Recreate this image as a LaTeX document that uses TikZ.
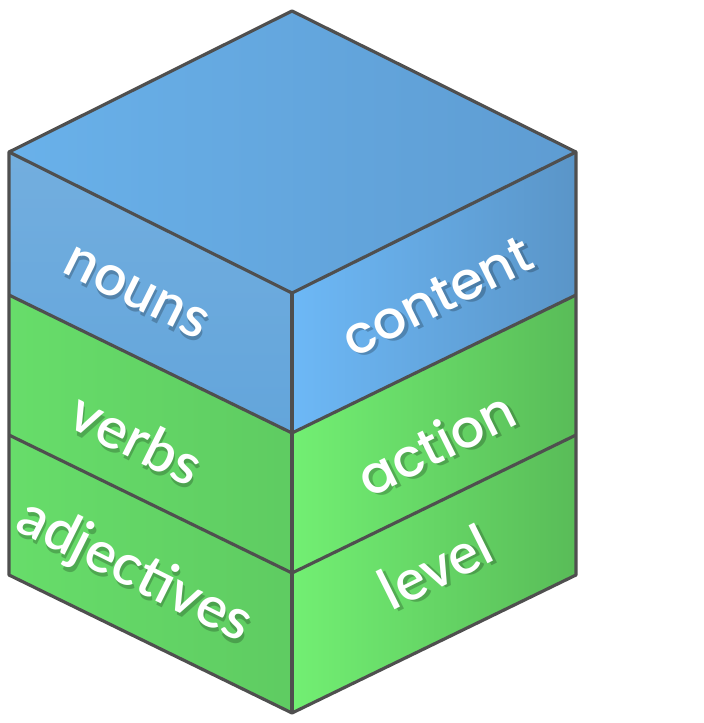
\documentclass[tikz,border=0pt]{standalone}
\usepackage{fontspec}
\setmainfont{Lato}[UprightFont=* Semibold]
\newfontfamily\roundfont{Poppins}[UprightFont=* Medium]
\usetikzlibrary{positioning}

\definecolor{edgegray}{HTML}{4F4F4F}
\definecolor{topleft}{HTML}{69B1EA}
\definecolor{topright}{HTML}{5E9CD2}
\definecolor{blueside}{HTML}{63A5DB}
\definecolor{bluefront}{HTML}{6DB8F6}
\definecolor{blueback}{HTML}{5A95C8}
\definecolor{greenside}{HTML}{67DD6A}
\definecolor{greenfront}{HTML}{72EF73}
\definecolor{greenback}{HTML}{59BC58}

\tikzset{
    cube edge/.style={
        draw=edgegray,
        line width=0.9pt,
        line join=round
    },
    face label/.style={
        text=white,
        inner sep=0pt,
        font=\fontsize{16.3}{17}\selectfont
    },
    left label/.style={face label, rotate=-26.5},
    right label/.style={face label, rotate=26.5},
    label shadow/.style={text=black, opacity=#1},
    label shadow/.default=0.3
}

% white text with a soft dark shadow behind it
\newcommand{\cubelabel}[4]{%
    \node (#1-sh) [#3, label shadow=0.22, xshift=0.8pt, yshift=-0.9pt] at (#2) {#4};
    \node (#1) [#3] at (#2) {#4};
}

\begin{document}
\begin{tikzpicture}[x=0.01cm, y=-0.01cm]
    \useasboundingbox (0,0) rectangle (704,723);

    % Corners
    \coordinate (top)    at (292,11);
    \coordinate (left0)  at (9,152);
    \coordinate (right0) at (576,152);
    \coordinate (front0) at (292,293);
    \coordinate (left1)  at (9,295);
    \coordinate (right1) at (576,295);
    \coordinate (front1) at (292,433);
    \coordinate (left2)  at (9,435);
    \coordinate (right2) at (576,435);
    \coordinate (front2) at (292,573);
    \coordinate (left3)  at (9,575);
    \coordinate (right3) at (576,575);
    \coordinate (front3) at (292,713);

    % Faces
    \shade [left color=topleft, right color=topright]
        (top) -- (right0) -- (front0) -- (left0) -- cycle;
    \shade [top color=blueside!90!white, bottom color=blueside]
        (left0) -- (front0) -- (front1) -- (left1) -- cycle;
    \shade [left color=bluefront, right color=blueback]
        (front0) -- (right0) -- (right1) -- (front1) -- cycle;
    \shade [left color=greenside, right color=greenside!92!black]
        (left1) -- (front1) -- (front3) -- (left3) -- cycle;
    \shade [left color=greenfront, right color=greenback]
        (front1) -- (right1) -- (right3) -- (front3) -- cycle;

    % Edges
    \draw [cube edge] (left0) -- (top) -- (right0) -- (right3) -- (front3) -- (left3) -- cycle;
    \draw [cube edge] (left0) -- (front0) -- (right0);
    \draw [cube edge] (front0) -- (front3);
    \draw [cube edge] (left1) -- (front1) -- (right1);
    \draw [cube edge] (left2) -- (front2) -- (right2);

    % Labels
    \cubelabel{nouns}{136,293}{left label}{nouns}
    \cubelabel{verbs}{137,438}{left label}{verbs}
    \cubelabel{adjectives}{134,572}{left label}{adjectives}
    \cubelabel{content}{437,297}{right label, font=\roundfont\fontsize{15}{16}\selectfont}{content}
    \cubelabel{action}{436,443}{right label, font=\roundfont\fontsize{15}{16}\selectfont}{action}
    \cubelabel{level}{435,567}{right label}{level}
\end{tikzpicture}
\end{document}
